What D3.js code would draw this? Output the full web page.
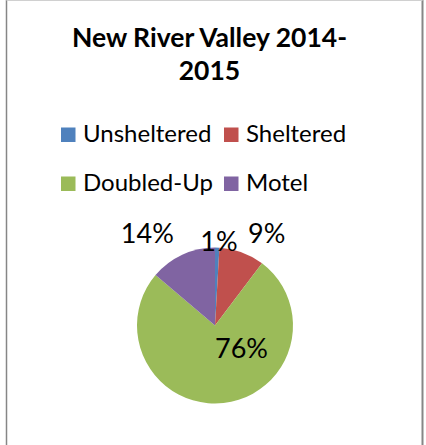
<!DOCTYPE html>
<html>
<head>
<meta charset="utf-8">
<script src="https://cdn.jsdelivr.net/npm/d3@7"></script>
<style>
  body { margin: 0; background: #fff; }
  svg { display: block; font-family: Lato, "Open Sans", sans-serif; }
</style>
</head>
<body>
<div id="chart"></div>
<script>
// data (percent of total)
var categories = ['Unsheltered', 'Sheltered', 'Doubled-Up', 'Motel']
var values = [0.9, 9.4, 75.9, 13.8]
var colors = ['#4F81BD', '#C0504D', '#9BBB59', '#8064A2']
var titleLines = ['New River Valley 2014-', '2015']

// where excel's "best fit" put each label: [angle in degrees from top, distance from centre]
var labelPlace = [[2.7, 84.6], [29.2, 106], [131.2, 35.2], [-36.2, 114.6]]

var width = 426
var height = 445
var cx = 215
var cy = 325.5
var radius = 78

var svg = d3.select('#chart').append('svg')
    .attr('width', width)
    .attr('height', height)

// chart frame
svg.append('line')
    .attr('x1', 6.5).attr('x2', 6.5).attr('y1', 0).attr('y2', height)
    .attr('stroke', '#868686').attr('stroke-width', 1.5)
svg.append('line')
    .attr('x1', 422.5).attr('x2', 422.5).attr('y1', 0).attr('y2', height)
    .attr('stroke', '#868686').attr('stroke-width', 2)
svg.append('line')
    .attr('x1', 6.5).attr('x2', 422.5).attr('y1', 0.5).attr('y2', 0.5)
    .attr('stroke', '#d0d0d0').attr('stroke-width', 1)

// title
svg.append('g')
    .selectAll('text')
    .data(titleLines)
    .join('text')
    .attr('x', 209.5)
    .attr('y', (d, i) => 47 + i * 33)
    .attr('text-anchor', 'middle')
    .attr('font-weight', 'bold')
    .attr('font-size', '26.5px')
    .attr('fill', '#000')
    .text(d => d)

// legend, two per row
var legend = svg.append('g')
    .selectAll('g')
    .data(categories)
    .join('g')
    .attr('transform', (d, i) => 'translate(' + (61 + (i % 2) * 163) + ',' + (127.5 + Math.floor(i / 2) * 49) + ')')
legend.append('rect')
    .attr('width', 14.5)
    .attr('height', 14.5)
    .attr('fill', (d, i) => colors[i])
legend.append('text')
    .attr('x', 22)
    .attr('y', 14.5)
    .attr('font-size', '24px')
    .attr('fill', '#000')
    .text(d => d)

// pie
var total = d3.sum(values)
var pie = d3.pie().sort(null).value(d => d)
var arc = d3.arc().innerRadius(0).outerRadius(radius)
var arcs = pie(values)

var pieG = svg.append('g')
    .attr('transform', 'translate(' + cx + ',' + cy + ')')

pieG.selectAll('path')
    .data(arcs)
    .join('path')
    .attr('d', arc)
    .attr('fill', (d, i) => colors[i])

var fmt = d3.format('.0%')
pieG.selectAll('text')
    .data(arcs)
    .join('text')
    .attr('transform', (d, i) => {
        var a = labelPlace[i][0] * Math.PI / 180
        var r = labelPlace[i][1]
        var p = d3.arc().innerRadius(r).outerRadius(r).centroid({ startAngle: a, endAngle: a })
        return 'translate(' + p[0] + ',' + p[1] + ')'
    })
    .attr('dy', '0.36em')
    .attr('text-anchor', 'middle')
    .attr('font-size', '27px')
    .attr('fill', '#000')
    .text(d => fmt(d.value / total))
</script>
</body>
</html>
